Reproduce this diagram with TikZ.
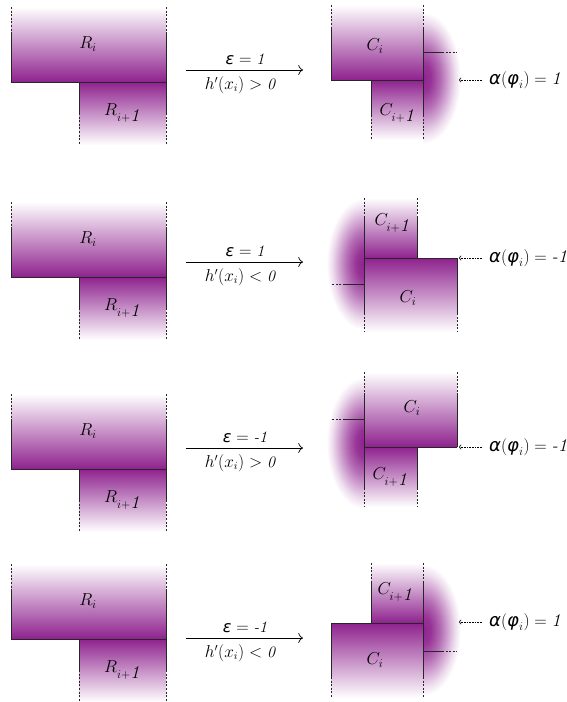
\documentclass[tikz,border=0pt]{standalone}
\usepackage{fontspec}
\newfontfamily\grkfont{DejaVu Sans}
\usetikzlibrary{arrows.meta}
\definecolor{pp}{RGB}{142,34,142}
\pgfdeclareradialshading{glowshade}{\pgfpoint{0bp}{0bp}}{%
  color(0bp)=(pp); color(5bp)=(pp!92); color(11bp)=(pp!66); color(16bp)=(pp!38);
  color(20bp)=(pp!15); color(23.5bp)=(white); color(50bp)=(white)}
\newcommand{\grkit}[1]{\mbox{\grkfont\itshape #1}}
\newcommand{\itnum}[1]{\mbox{\itshape #1}}
\tikzset{
  edge/.style={line width=0.8pt, draw=black!85},
  dsh/.style={line width=0.8pt, draw=black!85, dash pattern=on 2pt off 1.6pt},
  lab/.style={font=\fontsize{18}{20}\selectfont, inner sep=0pt},
  cond/.style={font=\fontsize{16}{18}\selectfont, inner sep=0pt},
  alab/.style={font=\fontsize{18}{20}\selectfont, inner sep=0pt, anchor=west},
  mainarrow/.style={line width=0.7pt, -{To[scale=1.5]}},
  dotarrow/.style={line width=0.6pt, densely dotted, -{To[scale=0.8]}},
  upfade/.style={top color=white, bottom color=pp},
  downfade/.style={top color=pp, bottom color=white},
  glow/.style={shading=glowshade}
}
\newcommand{\leftfig}[2]{%
  \begin{scope}[shift={(0,#1)}]
    \fill[upfade] (11,0) rectangle (166,75);
    \fill[downfade] (79,75) rectangle (166,138);
    \draw[dsh] (11,0) -- (11,26);
    \draw[edge] (11,26) -- (11,75);
    \draw[dsh] (166,0) -- (166,26);
    \draw[edge] (166,26) -- (166,106);
    \draw[dsh] (166,106) -- (166,138);
    \draw[edge] (79,75) -- (79,106);
    \draw[dsh] (79,106) -- (79,138);
    \draw[edge] (11,75) -- (166,75);
    \node[lab] (Ri#2) at (88,37) {$R_i$};
    \node[lab] (Rn#2) at (122,106) {$R_{i+\itnum{1}}$};
  \end{scope}}
\newcommand{\condarrow}[4]{%
  \coordinate (s#1) at (186,#2);
  \coordinate (e#1) at (303,#2);
  \draw[mainarrow] (s#1) -- (e#1);
  \node[cond] (ea#1) at (245,{#2-11}) {$\grkit{ε} = \itnum{#3}$};
  \node[cond] (ha#1) at (240,{#2+15}) {$h'(x_i) #4 \itnum{0}$};}
\newcommand{\alphalabel}[3]{%
  \coordinate (as#1) at (482,#2);
  \coordinate (ae#1) at (459,#2);
  \draw[dotarrow] (as#1) -- (ae#1);
  \node[alab] (al#1) at (489,#2) {$\grkit{α}(\grkit{φ}_i) = \itnum{#3}$};}
% glow: #1 center x, #2 center y, #3 clip x0, #4 clip x1
\newcommand{\halfglow}[4]{%
  \begin{scope}
    \clip (#3,{#2-80}) rectangle (#4,{#2+80});
    \shade[glow] (#1,#2) ellipse [x radius=40, y radius=70];
  \end{scope}}
\begin{document}
\begin{tikzpicture}[x=1pt,y=-1pt]
\useasboundingbox (0,0) rectangle (567,702);
\fill[white] (0,0) rectangle (567,702);

% ---------- glows (behind everything)
\halfglow{423}{78}{423}{470}
\halfglow{364}{264}{318}{364}
\halfglow{364}{443}{318}{364}
\halfglow{423}{630}{423}{470}

% ---------- left figures
\leftfig{7}{a}
\leftfig{202}{b}
\leftfig{394}{c}
\leftfig{564}{d}

% ---------- arrows
\condarrow{a}{70}{1}{>}
\condarrow{b}{262}{1}{<}
\condarrow{c}{448}{-1}{>}
\condarrow{d}{638}{-1}{<}

% ---------- row 1 right
\fill[upfade] (331,5) rectangle (423,80);
\fill[downfade] (371,80) rectangle (423,140);
\draw[dsh] (331,5) -- (331,27);
\draw[edge] (331,27) -- (331,80);
\draw[dsh] (423,5) -- (423,27);
\draw[edge] (423,27) -- (423,115);
\draw[dsh] (423,115) -- (423,140);
\draw[edge] (371,80) -- (371,115);
\draw[dsh] (371,115) -- (371,140);
\draw[edge] (331,80) -- (423,80);
\coordinate (ha1) at (423,52);
\coordinate (hb1) at (442,52);
\coordinate (hc1) at (457,52);
\draw[edge] (ha1) -- (hb1);
\draw[dsh] (hb1) -- (hc1);
\node[lab] (Ca) at (375,46) {$C_i$};
\node[lab] (Cna) at (397,113) {$C_{i+\itnum{1}}$};
\alphalabel{a}{80}{1}

% ---------- row 2 right
\fill[upfade] (364,198) rectangle (417,258);
\fill[downfade] (364,258) rectangle (457,332);
\draw[dsh] (364,198) -- (364,217);
\draw[edge] (364,217) -- (364,313);
\draw[dsh] (364,313) -- (364,332);
\draw[dsh] (417,198) -- (417,217);
\draw[edge] (417,217) -- (417,258);
\draw[edge] (457,258) -- (457,313);
\draw[dsh] (457,313) -- (457,332);
\draw[edge] (364,258) -- (457,258);
\coordinate (ha2) at (364,284);
\coordinate (hb2) at (345,284);
\coordinate (hc2) at (331,284);
\draw[edge] (ha2) -- (hb2);
\draw[dsh] (hb2) -- (hc2);
\node[lab] (Cnb) at (392,223) {$C_{i+\itnum{1}}$};
\node[lab] (Cb) at (408,298) {$C_i$};
\alphalabel{b}{258}{-1}

% ---------- row 3 right
\fill[upfade] (364,372) rectangle (457,447);
\fill[downfade] (364,447) rectangle (417,507);
\draw[dsh] (364,372) -- (364,393);
\draw[edge] (364,393) -- (364,488);
\draw[dsh] (364,488) -- (364,507);
\draw[dsh] (457,372) -- (457,393);
\draw[edge] (457,393) -- (457,447);
\draw[edge] (417,447) -- (417,488);
\draw[dsh] (417,488) -- (417,507);
\draw[edge] (364,447) -- (457,447);
\coordinate (ha3) at (364,419);
\coordinate (hb3) at (345,419);
\coordinate (hc3) at (331,419);
\draw[edge] (ha3) -- (hb3);
\draw[dsh] (hb3) -- (hc3);
\node[lab] (Cc) at (412,408) {$C_i$};
\node[lab] (Cnc) at (390,477) {$C_{i+\itnum{1}}$};
\alphalabel{c}{447}{-1}

% ---------- row 4 right
\fill[upfade] (371,563) rectangle (423,623);
\fill[downfade] (331,623) rectangle (423,698);
\draw[dsh] (371,563) -- (371,583);
\draw[edge] (371,583) -- (371,623);
\draw[dsh] (423,563) -- (423,583);
\draw[edge] (423,583) -- (423,677);
\draw[dsh] (423,677) -- (423,698);
\draw[edge] (331,623) -- (331,677);
\draw[dsh] (331,677) -- (331,698);
\draw[edge] (331,623) -- (423,623);
\coordinate (ha4) at (423,651);
\coordinate (hb4) at (442,651);
\coordinate (hc4) at (457,651);
\draw[edge] (ha4) -- (hb4);
\draw[dsh] (hb4) -- (hc4);
\node[lab] (Cnd) at (395,592) {$C_{i+\itnum{1}}$};
\node[lab] (Cd) at (375,660) {$C_i$};
\alphalabel{d}{622}{1}
\end{tikzpicture}
\end{document}
